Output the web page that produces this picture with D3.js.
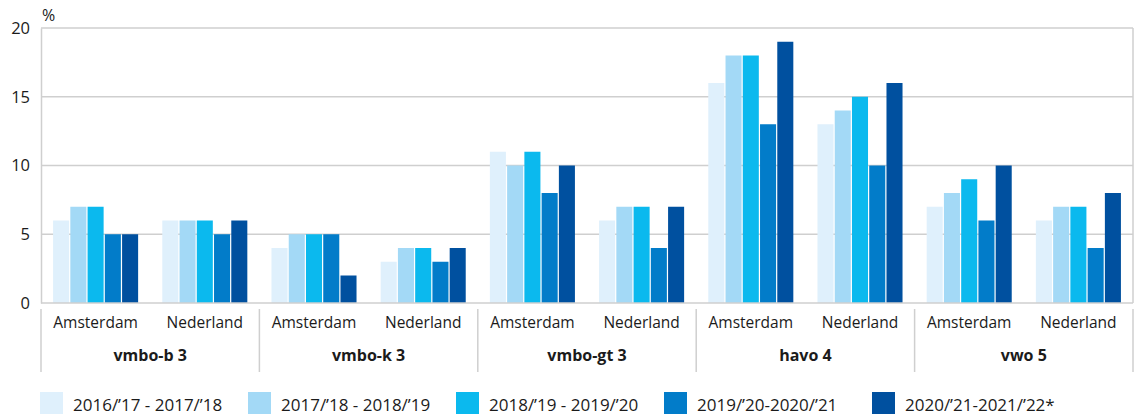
<!DOCTYPE html>
<html>
<head>
<meta charset="utf-8">
<script src="https://cdn.jsdelivr.net/npm/d3@7"></script>
<style>
html,body{margin:0;padding:0;background:#fff;}
svg{display:block;font-family:"Open Sans",sans-serif;}
</style>
</head>
<body>
<svg id="chart" width="1140" height="414"></svg>
<script>
const groups = ["vmbo-b 3","vmbo-k 3","vmbo-gt 3","havo 4","vwo 5"];
const regions = ["Amsterdam","Nederland"];
const series = ["2016/’17 - 2017/’18","2017/’18 - 2018/’19","2018/’19 - 2019/’20","2019/’20-2020/’21","2020/’21-2021/’22*"];
const colors = ["#dff0fc","#a3d9f6","#0bb9ee","#027cc9","#00509f"];
// values per category (group|region), one per series
const vmboB_Amsterdam = [6,7,7,5,5];
const vmboB_Nederland = [6,6,6,5,6];
const vmboK_Amsterdam = [4,5,5,5,2];
const vmboK_Nederland = [3,4,4,3,4];
const vmboGT_Amsterdam = [11,10,11,8,10];
const vmboGT_Nederland = [6,7,7,4,7];
const havo_Amsterdam = [16,18,18,13,19];
const havo_Nederland = [13,14,15,10,16];
const vwo_Amsterdam = [7,8,9,6,10];
const vwo_Nederland = [6,7,7,4,8];
const yTicks = [0,5,10,15,20];

const values = [vmboB_Amsterdam,vmboB_Nederland,vmboK_Amsterdam,vmboK_Nederland,
  vmboGT_Amsterdam,vmboGT_Nederland,havo_Amsterdam,havo_Nederland,vwo_Amsterdam,vwo_Nederland];
const cats = [];
groups.forEach(g => regions.forEach(r => cats.push({g, r, key: g + "|" + r})));
cats.forEach((c,i) => c.vals = values[i]);

const svg = d3.select("#chart");
const L = 41, R = 1133, T = 28, B = 303;
const x0 = d3.scaleBand().domain(cats.map(c => c.key)).range([L, R]).padding(0);
const x1 = d3.scaleBand().domain(series).range([0, x0.bandwidth()]).paddingInner(0.07).paddingOuter(0.7);
const y = d3.scaleLinear().domain([0, 20]).range([B, T]);
const gridC = "#cfcfcf", textC = "#1b1b1b";

// grid
svg.append("g").selectAll("line").data(yTicks.filter(t => t > 0)).join("line")
  .attr("x1", L).attr("x2", R).attr("y1", d => y(d)).attr("y2", d => y(d))
  .attr("stroke", gridC).attr("stroke-width", 1.5);
// right border
svg.append("line").attr("x1", R).attr("x2", R).attr("y1", T).attr("y2", B).attr("stroke", gridC).attr("stroke-width", 1.5);

// bars
const cg = svg.append("g").selectAll("g").data(cats).join("g")
  .attr("transform", d => `translate(${x0(d.key)},0)`);
cg.selectAll("rect").data(d => d.vals.map((v,i) => ({s: series[i], v, i}))).join("rect")
  .attr("x", d => x1(d.s)).attr("width", x1.bandwidth())
  .attr("y", d => y(d.v)).attr("height", d => y(0) - y(d.v))
  .attr("fill", d => colors[d.i]);

// y axis
const yAxis = svg.append("g").attr("transform", `translate(${L},0)`)
  .call(d3.axisLeft(y).tickValues(yTicks).tickSize(0).tickPadding(11));
yAxis.select(".domain").attr("stroke", gridC).attr("stroke-width", 1.5);
yAxis.selectAll("text").attr("font-size", 16.5).attr("fill", textC).attr("font-family", "Open Sans, sans-serif");
svg.append("line").attr("x1", L).attr("x2", R).attr("y1", B).attr("y2", B).attr("stroke", gridC).attr("stroke-width", 1.5);

svg.append("text").attr("x", L + 1).attr("y", 21).text("%").attr("font-size", 16).attr("fill", textC);

// category axis
svg.append("g").selectAll("text").data(cats).join("text")
  .attr("x", d => x0(d.key) + x0.bandwidth() / 2).attr("y", 328)
  .attr("text-anchor", "middle").attr("font-size", 15.5).attr("fill", textC).text(d => d.r);
const gw = x0.bandwidth() * 2;
svg.append("g").selectAll("text").data(groups).join("text")
  .attr("x", (d,i) => L + gw * i + gw / 2).attr("y", 361)
  .attr("text-anchor", "middle").attr("font-size", 16).attr("font-weight", "bold").attr("fill", textC).text(d => d);
svg.append("g").selectAll("line").data(d3.range(groups.length + 1)).join("line")
  .attr("x1", i => L + gw * i).attr("x2", i => L + gw * i)
  .attr("y1", 309).attr("y2", 372).attr("stroke", gridC).attr("stroke-width", 1.5);

// legend
const lg = svg.append("g").selectAll("g").data(series).join("g")
  .attr("transform", (d,i) => `translate(${40 + 208 * i},392)`);
lg.append("rect").attr("width", 23).attr("height", 22).attr("fill", (d,i) => colors[i]);
lg.append("text").attr("x", 33).attr("y", 18.5).attr("font-size", 17).attr("fill", textC).text(d => d);
</script>
</body>
</html>
